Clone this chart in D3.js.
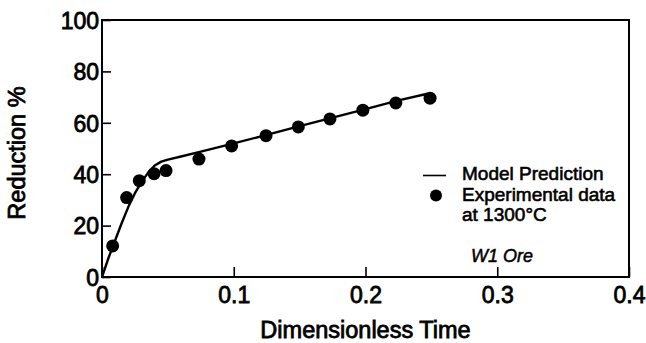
<!DOCTYPE html>
<html>
<head>
<meta charset="utf-8">
<script src="https://cdn.jsdelivr.net/npm/d3@7"></script>
<style>
  html, body { margin: 0; padding: 0; background: #fff; }
  svg { display: block; }
  text { font-family: "Liberation Sans", Arial, Helvetica, sans-serif; fill: #000; }
</style>
</head>
<body>
<svg id="chart"></svg>
<script>
// experimental points
const expTime = [0.0081, 0.0187, 0.0283, 0.0395, 0.0486, 0.0736, 0.0984, 0.1245, 0.149, 0.173, 0.198, 0.223, 0.249];
const expReduction = [12.1, 30.9, 37.5, 40.2, 41.4, 45.9, 51.0, 55.0, 58.4, 61.5, 64.9, 67.7, 69.6];

// model prediction curve
const modelTime = [0, 0.005, 0.01, 0.015, 0.02, 0.025, 0.03, 0.035, 0.04, 0.045, 0.05, 0.06, 0.075, 0.1, 0.125, 0.15, 0.175, 0.2, 0.225, 0.247];
const modelReduction = [0, 7.5, 14.3, 21.0, 27.3, 32.6, 36.9, 40.6, 43.4, 44.9, 45.7, 46.9, 48.8, 52.0, 55.3, 58.7, 62.0, 65.3, 68.7, 71.3];

const xTicks = [0, 0.1, 0.2, 0.3, 0.4];
const xTickLabels = ["0", "0.1", "0.2", "0.3", "0.4"];
const yTicks = [0, 20, 40, 60, 80, 100];

const legendLabels = ["Model Prediction", "Experimental data", "at 1300°C"];
const noteLabel = "W1 Ore";
const xTitle = "Dimensionless Time";
const yTitle = "Reduction %";

(() => {
  const width = 646, height = 343;
  const plot = { left: 102, right: 629, top: 20, bottom: 277 };

  const svg = d3.select("#chart")
    .attr("width", width)
    .attr("height", height)
    .attr("viewBox", [0, 0, width, height]);

  const x = d3.scaleLinear().domain([0, 0.4]).range([plot.left, plot.right]);
  const y = d3.scaleLinear().domain([0, 100]).range([plot.bottom, plot.top]);

  const ink = "#000";
  // the scanned print looks heavier than plain regular weight
  const textStroke = (g, w = 0.8) => g.attr("stroke", ink).attr("stroke-width", w);

  // frame
  svg.append("rect")
    .attr("x", plot.left)
    .attr("y", plot.top)
    .attr("width", plot.right - plot.left)
    .attr("height", plot.bottom - plot.top)
    .attr("fill", "none")
    .attr("stroke", ink)
    .attr("stroke-width", 2);

  // x axis, ticks pointing inward
  svg.append("g")
    .attr("transform", `translate(0,${plot.bottom})`)
    .call(d3.axisTop(x).tickValues(xTicks).tickSize(10).tickFormat((d, i) => xTickLabels[i]))
    .call(g => g.select(".domain").remove())
    .call(g => g.selectAll(".tick line").attr("stroke", ink).attr("stroke-width", 1.6))
    .call(g => g.selectAll(".tick text")
      .attr("y", 26)
      .attr("dy", 0)
      .attr("font-size", 23)
      .attr("font-family", null)
      .call(textStroke));

  // y axis, ticks pointing inward
  svg.append("g")
    .attr("transform", `translate(${plot.left},0)`)
    .call(d3.axisRight(y).tickValues(yTicks).tickSize(9))
    .call(g => g.select(".domain").remove())
    .call(g => g.selectAll(".tick line").attr("stroke", ink).attr("stroke-width", 1.6))
    .call(g => g.selectAll(".tick text")
      .attr("x", -3)
      .attr("dy", "0.36em")
      .attr("text-anchor", "end")
      .attr("font-size", 23)
      .attr("font-family", null)
      .call(textStroke));

  // axis titles
  svg.append("text")
    .attr("x", (plot.left + plot.right) / 2)
    .attr("y", 338)
    .attr("text-anchor", "middle")
    .attr("font-size", 23.5)
    .call(textStroke)
    .text(xTitle);

  svg.append("text")
    .attr("transform", "translate(25,153) rotate(-90)")
    .attr("text-anchor", "middle")
    .attr("font-size", 23.5)
    .call(textStroke)
    .text(yTitle);

  // model line
  const model = modelTime.map((t, i) => ({ t, r: modelReduction[i] }));
  const line = d3.line()
    .x(d => x(d.t))
    .y(d => y(d.r));

  svg.append("path")
    .datum(model)
    .attr("fill", "none")
    .attr("stroke", ink)
    .attr("stroke-width", 2.4)
    .attr("stroke-linejoin", "round")
    .attr("d", line);

  // experimental points
  const pts = expTime.map((t, i) => ({ t, r: expReduction[i] }));
  svg.append("g")
    .selectAll("circle")
    .data(pts)
    .join("circle")
    .attr("cx", d => x(d.t))
    .attr("cy", d => y(d.r))
    .attr("r", 6.5)
    .attr("fill", ink);

  // legend
  const lg = svg.append("g");
  lg.append("line")
    .attr("x1", 423).attr("x2", 446)
    .attr("y1", 175.5).attr("y2", 175.5)
    .attr("stroke", ink)
    .attr("stroke-width", 1.6);
  lg.append("circle")
    .attr("cx", 436).attr("cy", 195.5)
    .attr("r", 6)
    .attr("fill", ink);
  lg.selectAll("text")
    .data(legendLabels)
    .join("text")
    .attr("x", 462)
    .attr("y", (d, i) => [180, 201, 221][i])
    .attr("font-size", 19)
    .call(textStroke, 0.6)
    .text(d => d);

  svg.append("text")
    .attr("x", 471)
    .attr("y", 262)
    .attr("font-size", 18)
    .attr("font-style", "italic")
    .call(textStroke, 0.5)
    .text(noteLabel);
})();
</script>
</body>
</html>
